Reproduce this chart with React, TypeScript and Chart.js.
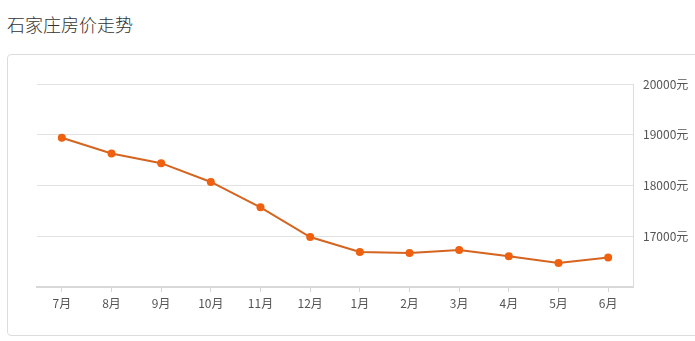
import React, { useEffect, useRef } from "react";
import { Chart, registerables } from "chart.js";

Chart.register(...registerables);

const title = "石家庄房价走势";
const months = ["7月", "8月", "9月", "10月", "11月", "12月", "1月", "2月", "3月", "4月", "5月", "6月"];
const prices = [18940, 18630, 18440, 18070, 17570, 16985, 16690, 16670, 16730, 16605, 16475, 16580];
const yMin = 16000;
const yMax = 20000;
const yStep = 1000;
const unit = "元";

const FONT = "'Noto Sans CJK SC', 'Open Sans', sans-serif";

export default function App() {
  const ref = useRef<HTMLCanvasElement | null>(null);

  useEffect(() => {
    document.body.style.margin = "0";
    const canvas = ref.current;
    if (!canvas) return;
    const chart = new Chart(canvas, {
      type: "line",
      data: {
        labels: months,
        datasets: [
          {
            data: prices,
            borderColor: "#d4641f",
            borderWidth: 2,
            backgroundColor: "#ef600f",
            pointBackgroundColor: "#ef600f",
            pointBorderColor: "#ef600f",
            pointRadius: 4,
            pointBorderWidth: 0,
            tension: 0,
            fill: false,
          },
        ],
      },
      options: {
        responsive: false,
        animation: false,
        maintainAspectRatio: false,
        layout: { padding: { left: 37, top: 84, right: 0, bottom: 0 } },
        plugins: {
          legend: { display: false },
          tooltip: { enabled: false },
          title: { display: false },
        },
        scales: {
          x: {
            type: "category",
            offset: true,
            grid: {
              offset: false,
              drawOnChartArea: false,
              drawTicks: true,
              tickLength: 5,
              color: "#d6d6d6",
            },
            border: { color: "#d8d8d8", width: 2 },
            ticks: {
              padding: 4,
              color: "#555",
              font: { size: 12, family: FONT },
              maxRotation: 0,
              autoSkip: false,
            },
            afterFit: (scale: any) => {
              scale.height = 54;
            },
          },
          y: {
            position: "right",
            min: yMin,
            max: yMax,
            grid: { color: "#e2e2e2", drawTicks: false, lineWidth: 1 },
            border: { color: "#dcdcdc", width: 1 },
            ticks: {
              stepSize: yStep,
              padding: 10,
              color: "#555",
              font: { size: 12, family: FONT },
              callback: (v: any) => (Number(v) === yMin ? "" : `${v}${unit}`),
            },
            afterFit: (scale: any) => {
              scale.width = 62;
            },
          },
        },
      },
    });
    return () => chart.destroy();
  }, []);

  return (
    <div style={{ position: "absolute", left: 0, top: 0, width: 695, height: 341, background: "#fff", overflow: "hidden" }}>
      <div
        style={{
          position: "absolute",
          left: 7,
          top: 11,
          fontFamily: FONT,
          fontSize: 18,
          fontWeight: 300,
          color: "#333",
          lineHeight: "26px",
        }}
      >
        {title}
      </div>
      <div
        style={{
          position: "absolute",
          left: 7,
          top: 54,
          width: 700,
          height: 282,
          border: "1px solid #dcdcdc",
          borderRadius: 4,
          boxSizing: "border-box",
        }}
      />
      <canvas ref={ref} width={695} height={341} style={{ position: "absolute", left: 0, top: 0, width: 695, height: 341 }} />
    </div>
  );
}
